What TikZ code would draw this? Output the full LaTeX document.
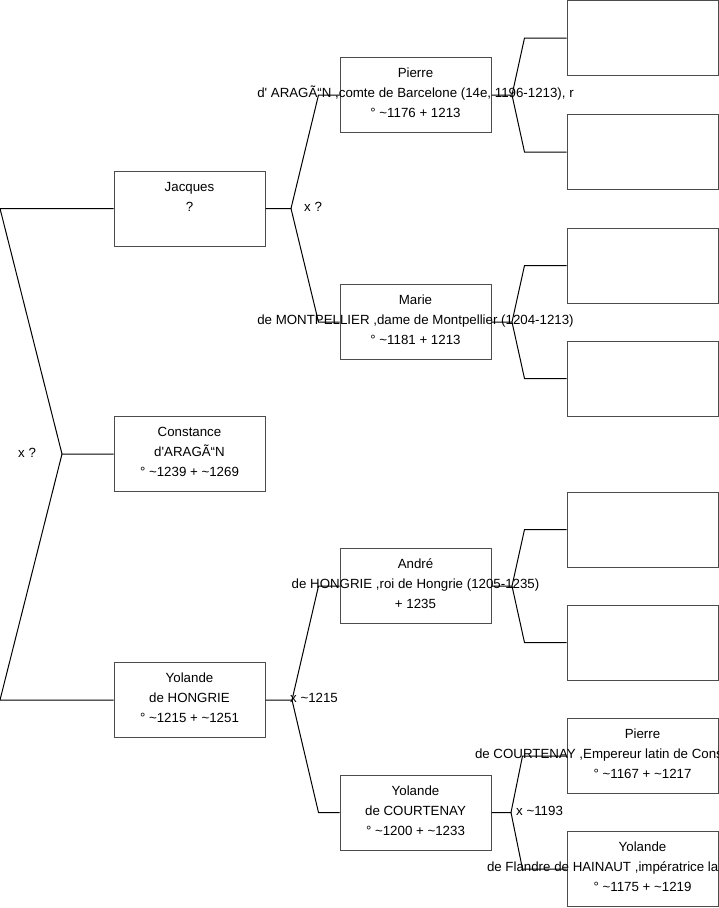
\documentclass[tikz,border=0pt]{standalone}
\usepackage{fontspec}
\setmainfont{Liberation Sans}
\usetikzlibrary{positioning}
\newcommand\circa{\textasciitilde}
\newcommand\wideline[1]{\makebox[0pt]{#1}}
\newcommand\cutline[2]{\makebox[0pt]{\makebox[#1][l]{#2}}}

\begin{document}
\begin{tikzpicture}[
  x=1pt, y=-1pt,
  every node/.style={font=\fontsize{13.3}{20}\selectfont},
  person/.style={
    draw=black!70,
    fill=white,
    rectangle,
    align=center,
    minimum width=151pt,
    minimum height=75pt,
    inner sep=0pt,
    text depth=4pt,
    line width=1pt
  },
  mark label/.style={anchor=base west, inner sep=0pt},
  link/.style={line width=1pt}
]
\useasboundingbox (0,0) rectangle (719,908);

% first column
\node[person] (jacques) at (189.5,208.5) {Jacques\\?\\\mbox{}};
\node[person] (constance) at (189.5,454) {Constance\\d\textquotesingle ARAGÃ“N\\° \circa1239 + \circa1269};
\node[person] (yolandeH) at (189.5,700) {Yolande\\de HONGRIE\\° \circa1215 + \circa1251};

% second column
\node[person] (pierreA) at (415.5,95) {Pierre\\
\wideline{d\textquotesingle{} ARAGÃ“N ,comte de Barcelone (14e, 1196-1213), r}\\
° \circa1176 + 1213};
\node[person] (marieM) at (415.5,322) {Marie\\
\wideline{de MONTPELLIER ,dame de Montpellier (1204-1213)}\\
° \circa1181 + 1213};
\node[person] (andreH) at (415.5,586) {André\\
\wideline{de HONGRIE ,roi de Hongrie (1205-1235)}\\
+ 1235};
\node[person] (yolandeC) at (415.5,812.5) {Yolande\\de COURTENAY\\° \circa1200 + \circa1233};

% third column
\node[person] (pierreAF) at (642.5,38) {};
\node[person] (pierreAM) at (642.5,152) {};
\node[person] (marieMF) at (642.5,265.5) {};
\node[person] (marieMM) at (642.5,378.5) {};
\node[person] (andreHF) at (642.5,529.5) {};
\node[person] (andreHM) at (642.5,642.5) {};
\node[person] (pierreC) at (642.5,756) {Pierre\\
\cutline{335pt}{de COURTENAY ,Empereur latin de Cons}\\
° \circa1167 + \circa1217};
\node[person] (yolandeF) at (642.5,869) {Yolande\\
\cutline{311pt}{de Flandre de HAINAUT ,impératrice la}\\
° \circa1175 + \circa1219};

% marriage labels
\node[mark label] (mConstance) at (18,457) {x ?};
\node[mark label] (mJacques) at (304,211) {x ?};
\node[mark label] (mYolandeH) at (290,702) {x \circa1215};
\node[mark label] (mYolandeC) at (516,815) {x \circa1193};

% forks
\coordinate (jConstance) at (62,454);
\coordinate (jJacques) at (291,208.5);
\coordinate (jYolandeH) at (292,700);
\coordinate (jPierreA) at (512,95);
\coordinate (jMarieM) at (512,322);
\coordinate (jAndreH) at (512,586);
\coordinate (jYolandeC) at (511,812.5);

\draw[link] (jacques.west) -- ++(-113.5,0) -- (jConstance) -- (constance.west);
\draw[link] (yolandeH.west) -- ++(-113.5,0) -- (jConstance);

\draw[link] (jacques.east) -- (jJacques) -- ([xshift=-21pt]pierreA.west) -- (pierreA.west);
\draw[link] (jJacques) -- ([xshift=-21pt]marieM.west) -- (marieM.west);

\draw[link] (yolandeH.east) -- (jYolandeH) -- ([xshift=-21pt]andreH.west) -- (andreH.west);
\draw[link] (jYolandeH) -- ([xshift=-21pt]yolandeC.west) -- (yolandeC.west);

\draw[link] (pierreA.east) -- (jPierreA) -- ([xshift=-42pt]pierreAF.west) -- (pierreAF.west);
\draw[link] (jPierreA) -- ([xshift=-42pt]pierreAM.west) -- (pierreAM.west);

\draw[link] (marieM.east) -- (jMarieM) -- ([xshift=-42pt]marieMF.west) -- (marieMF.west);
\draw[link] (jMarieM) -- ([xshift=-42pt]marieMM.west) -- (marieMM.west);

\draw[link] (andreH.east) -- (jAndreH) -- ([xshift=-42pt]andreHF.west) -- (andreHF.west);
\draw[link] (jAndreH) -- ([xshift=-42pt]andreHM.west) -- (andreHM.west);

\draw[link] (yolandeC.east) -- (jYolandeC) -- ([xshift=-44pt]pierreC.west) -- (pierreC.west);
\draw[link] (jYolandeC) -- ([xshift=-44pt]yolandeF.west) -- (yolandeF.west);

\end{tikzpicture}
\end{document}
